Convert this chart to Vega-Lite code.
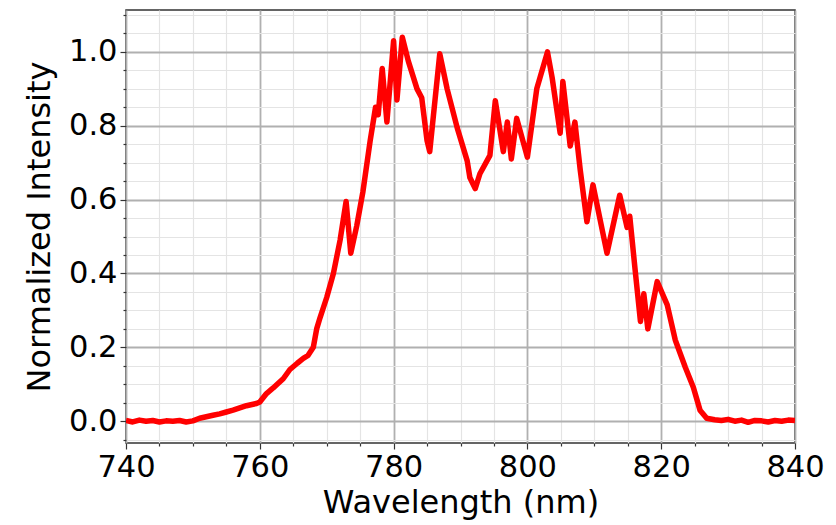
{
  "$schema": "https://vega.github.io/schema/vega-lite/v6.json",
  "autosize": "none",
  "width": 669,
  "height": 433,
  "padding": {"left": 126, "top": 10, "right": 41, "bottom": 82},
  "background": "white",
  "config": {
    "view": {"stroke": "#333333", "strokeWidth": 1.5},
    "font": "DejaVu Sans"
  },
  "data": {"values": [
    {"nm": 740, "v": 0.002}, {"nm": 741, "v": -0.002}, {"nm": 742, "v": 0.003}, {"nm": 743, "v": 0.0},
    {"nm": 744, "v": 0.002}, {"nm": 745, "v": -0.002}, {"nm": 746, "v": 0.001}, {"nm": 747, "v": 0.0},
    {"nm": 748, "v": 0.002}, {"nm": 749, "v": -0.002}, {"nm": 750, "v": 0.001}, {"nm": 751, "v": 0.008},
    {"nm": 752, "v": 0.012}, {"nm": 753, "v": 0.016}, {"nm": 754, "v": 0.02}, {"nm": 755, "v": 0.025},
    {"nm": 756, "v": 0.03}, {"nm": 757, "v": 0.036}, {"nm": 758, "v": 0.042}, {"nm": 759, "v": 0.046},
    {"nm": 759.5, "v": 0.048}, {"nm": 760, "v": 0.052}, {"nm": 761, "v": 0.075}, {"nm": 762, "v": 0.09},
    {"nm": 762.6, "v": 0.1}, {"nm": 763.5, "v": 0.115}, {"nm": 764.5, "v": 0.14}, {"nm": 765.6, "v": 0.157},
    {"nm": 766.5, "v": 0.17}, {"nm": 767.2, "v": 0.178}, {"nm": 768, "v": 0.2}, {"nm": 768.5, "v": 0.25},
    {"nm": 769, "v": 0.28}, {"nm": 770, "v": 0.335}, {"nm": 771, "v": 0.4}, {"nm": 772, "v": 0.49},
    {"nm": 772.9, "v": 0.595}, {"nm": 773.6, "v": 0.455}, {"nm": 774.5, "v": 0.53}, {"nm": 775.4, "v": 0.62},
    {"nm": 776.5, "v": 0.76}, {"nm": 777.3, "v": 0.85}, {"nm": 777.7, "v": 0.83}, {"nm": 778.3, "v": 0.955},
    {"nm": 779, "v": 0.81}, {"nm": 780, "v": 1.03}, {"nm": 780.5, "v": 0.87}, {"nm": 781.3, "v": 1.04},
    {"nm": 782.2, "v": 0.975}, {"nm": 783.5, "v": 0.9}, {"nm": 784.2, "v": 0.876}, {"nm": 785, "v": 0.76},
    {"nm": 785.4, "v": 0.73}, {"nm": 786.9, "v": 0.995}, {"nm": 788, "v": 0.9}, {"nm": 789.5, "v": 0.795},
    {"nm": 791, "v": 0.705}, {"nm": 791.4, "v": 0.66}, {"nm": 792.2, "v": 0.63}, {"nm": 792.9, "v": 0.67},
    {"nm": 794.4, "v": 0.72}, {"nm": 795.2, "v": 0.868}, {"nm": 796.4, "v": 0.73}, {"nm": 797, "v": 0.81},
    {"nm": 797.6, "v": 0.71}, {"nm": 798.4, "v": 0.82}, {"nm": 800, "v": 0.715}, {"nm": 801.4, "v": 0.9},
    {"nm": 803, "v": 1.0}, {"nm": 803.7, "v": 0.93}, {"nm": 804.9, "v": 0.78}, {"nm": 805.3, "v": 0.92},
    {"nm": 806.4, "v": 0.745}, {"nm": 807.1, "v": 0.81}, {"nm": 807.9, "v": 0.68}, {"nm": 808.9, "v": 0.54},
    {"nm": 809.8, "v": 0.64}, {"nm": 811.9, "v": 0.455}, {"nm": 813.8, "v": 0.612}, {"nm": 814.9, "v": 0.525},
    {"nm": 815.3, "v": 0.555}, {"nm": 816.1, "v": 0.41}, {"nm": 816.9, "v": 0.27}, {"nm": 817.4, "v": 0.345},
    {"nm": 818, "v": 0.25}, {"nm": 819.4, "v": 0.378}, {"nm": 820.9, "v": 0.315}, {"nm": 822.1, "v": 0.22},
    {"nm": 823.6, "v": 0.146}, {"nm": 824.8, "v": 0.092}, {"nm": 825.8, "v": 0.03}, {"nm": 826.8, "v": 0.008},
    {"nm": 828, "v": 0.004}, {"nm": 829, "v": 0.002}, {"nm": 830, "v": 0.005}, {"nm": 831, "v": 0.0},
    {"nm": 832, "v": 0.003}, {"nm": 833, "v": -0.003}, {"nm": 834, "v": 0.002}, {"nm": 835, "v": 0.001},
    {"nm": 836, "v": -0.002}, {"nm": 837, "v": 0.002}, {"nm": 838, "v": 0.0}, {"nm": 839, "v": 0.003},
    {"nm": 840, "v": 0.002}
  ]},
  "mark": {"type": "line", "color": "#ff0000", "strokeWidth": 5.5, "strokeJoin": "round", "clip": true},
  "encoding": {
    "x": {
      "field": "nm", "type": "quantitative",
      "scale": {"domain": [740, 840], "nice": false, "zero": false},
      "axis": {
        "title": "Wavelength (nm)",
        "values": [740,745,750,755,760,765,770,775,780,785,790,795,800,805,810,815,820,825,830,835,840],
        "labelExpr": "datum.value % 20 === 0 ? datum.label : ''",
        "labelOverlap": false, "labelFlush": false,
        "labelFontSize": 30.5, "labelColor": "#000000", "labelPadding": 3,
        "titleFontSize": 32, "titleFontWeight": "normal", "titleColor": "#000000", "titlePadding": 5,
        "domain": false,
        "tickColor": "#333333", "tickWidth": 1.2,
        "tickSize": {"condition": {"test": "datum.value % 20 === 0", "value": 6}, "value": 3},
        "grid": true,
        "gridColor": {"condition": {"test": "datum.value % 20 === 0", "value": "#b0b0b0"}, "value": "#e4e4e4"},
        "gridWidth": {"condition": {"test": "datum.value % 20 === 0", "value": 1.8}, "value": 1.2}
      }
    },
    "y": {
      "field": "v", "type": "quantitative",
      "scale": {"domain": [-0.059, 1.1135], "nice": false, "zero": false},
      "axis": {
        "title": "Normalized Intensity",
        "values": [-0.05,0,0.05,0.1,0.15,0.2,0.25,0.3,0.35,0.4,0.45,0.5,0.55,0.6,0.65,0.7,0.75,0.8,0.85,0.9,0.95,1.0,1.05,1.1],
        "format": ".1f",
        "labelExpr": "round(datum.value*100) % 20 === 0 ? datum.label : ''",
        "labelOverlap": false, "labelFlush": false,
        "labelFontSize": 30.5, "labelColor": "#000000", "labelPadding": 3,
        "titleFontSize": 32, "titleFontWeight": "normal", "titleColor": "#000000", "titlePadding": 12,
        "domain": false,
        "tickColor": "#333333", "tickWidth": 1.2,
        "tickSize": {"condition": {"test": "round(datum.value*100) % 20 === 0", "value": 6}, "value": 3},
        "grid": true,
        "gridColor": {"condition": {"test": "round(datum.value*100) % 20 === 0", "value": "#b0b0b0"}, "value": "#e4e4e4"},
        "gridWidth": {"condition": {"test": "round(datum.value*100) % 20 === 0", "value": 1.8}, "value": 1.2}
      }
    }
  }
}
